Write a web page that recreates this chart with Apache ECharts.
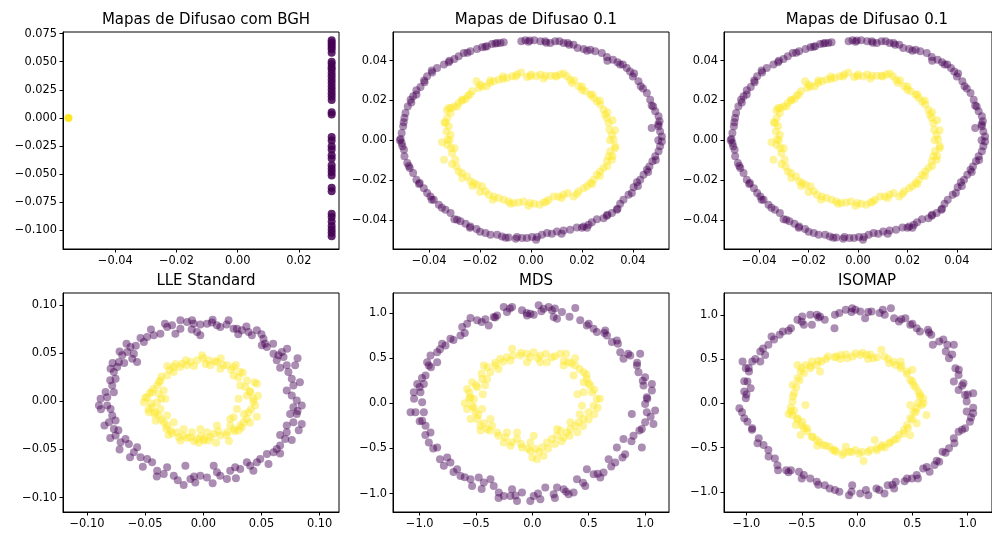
<!DOCTYPE html>
<html>
<head>
<meta charset="utf-8">
<script src="https://cdn.jsdelivr.net/npm/echarts@6/dist/echarts.min.js"></script>
<style>
  html, body { margin: 0; padding: 0; background: #fff; }
  #chart { width: 992px; height: 533px; }
</style>
</head>
<body>
<div id="chart"></div>
<script>
// ---- Titles ----
const panelTitles = ['Mapas de Difusao com BGH', 'Mapas de Difusao 0.1', 'Mapas de Difusao 0.1', 'LLE Standard', 'MDS', 'ISOMAP'];

// ---- Diffusion map with BGH: everything collapses onto two columns ----
const bghOuter = [
  [0.0307,0.069],[0.0307,0.067],[0.0307,0.065],[0.0307,0.063],[0.0307,0.061],[0.0307,0.058],
  [0.0307,0.050],[0.0307,0.048],[0.0307,0.045],[0.0307,0.043],[0.0307,0.040],[0.0307,0.037],
  [0.0307,0.034],[0.0307,0.031],[0.0307,0.028],[0.0307,0.025],[0.0307,0.022],[0.0307,0.019],
  [0.0307,0.016],[0.0307,0.005],[0.0307,0.003],[0.0307,-0.017],[0.0307,-0.020],[0.0307,-0.025],
  [0.0307,-0.028],[0.0307,-0.033],[0.0307,-0.036],[0.0307,-0.042],[0.0307,-0.045],[0.0307,-0.048],
  [0.0307,-0.051],[0.0307,-0.062],[0.0307,-0.065],[0.0307,-0.085],[0.0307,-0.088],[0.0307,-0.092],
  [0.0307,-0.096],[0.0307,-0.099],[0.0307,-0.102],[0.0307,-0.105]
];
const bghInner = [[-0.0553, 0.0]];

// ---- Diffusion map, epsilon 0.1 ----
const difOuter = [
  [-0.0153,0.0484],[-0.0133,0.0489],[-0.0107,0.0492],[-0.0173,0.0472],[-0.0192,0.0467],[-0.0212,0.0459],
  [-0.0238,0.0447],[-0.0264,0.0439],[-0.0284,0.0422],[-0.0301,0.0408],[-0.0323,0.0392],[-0.0342,0.0380],
  [-0.0369,0.0363],[-0.0388,0.0341],[-0.0408,0.0321],[-0.0418,0.0291],[-0.0434,0.0267],[-0.0450,0.0251],
  [-0.0463,0.0221],[-0.0473,0.0204],[-0.0484,0.0170],[-0.0493,0.0137],[-0.0497,0.0112],[-0.0502,0.0070],
  [-0.0508,0.0036],[-0.0512,0.0006],[-0.0508,-0.0014],[-0.0499,-0.0048],[-0.0497,-0.0081],[-0.0486,-0.0115],
  [-0.0476,-0.0140],[-0.0463,-0.0165],[-0.0450,-0.0199],[-0.0437,-0.0215],[-0.0421,-0.0241],[-0.0408,-0.0266],
  [-0.0395,-0.0283],[-0.0382,-0.0299],[-0.0362,-0.0324],[-0.0336,-0.0350],[-0.0316,-0.0366],[-0.0301,-0.0397],
  [-0.0277,-0.0408],[-0.0257,-0.0420],[-0.0238,-0.0434],[-0.0214,-0.0447],[-0.0179,-0.0467],[-0.0159,-0.0475],
  [-0.0133,-0.0475],[-0.0114,-0.0484],[-0.0088,-0.0489],[-0.0055,-0.0487],[-0.0035,-0.0492],[-0.0016,-0.0492],
  [0.0004,-0.0487],[0.0024,-0.0487],[0.0043,-0.0475],[0.0063,-0.0467],[0.0082,-0.0470],[0.0102,-0.0459],
  [0.0128,-0.0454],[0.0154,-0.0450],[0.0180,-0.0439],[0.0207,-0.0434],[0.0226,-0.0425],[0.0239,-0.0413],
  [0.0259,-0.0397],[0.0285,-0.0392],[0.0298,-0.0380],[0.0318,-0.0366],[0.0337,-0.0350],[0.0350,-0.0319],
  [0.0363,-0.0299],[0.0383,-0.0274],[0.0396,-0.0266],[0.0403,-0.0237],[0.0416,-0.0212],[0.0429,-0.0199],
  [0.0442,-0.0174],[0.0455,-0.0148],[0.0465,-0.0132],[0.0477,-0.0106],[0.0488,-0.0081],[0.0501,-0.0056],
  [0.0507,-0.0031],[0.0514,-0.0006],[0.0514,0.0019],[0.0507,0.0044],[0.0501,0.0070],[0.0474,0.0061],
  [0.0505,0.0095],[0.0501,0.0120],[0.0488,0.0145],[0.0474,0.0174],[0.0468,0.0204],[0.0455,0.0237],
  [0.0431,0.0271],[0.0422,0.0296],[0.0405,0.0335],[0.0389,0.0346],[0.0376,0.0363],[0.0361,0.0380],
  [0.0340,0.0392],[0.0322,0.0405],[0.0298,0.0418],[0.0278,0.0439],[0.0252,0.0447],[0.0233,0.0455],
  [0.0207,0.0459],[0.0183,0.0464],[0.0167,0.0480],[0.0144,0.0489],[0.0128,0.0489],[0.0112,0.0497],
  [0.0095,0.0497],[0.0076,0.0489],[0.0056,0.0497],[0.0037,0.0497],[0.0013,0.0502],[-0.0005,0.0501],
  [-0.0022,0.0502],[-0.0038,0.0497],[-0.0120,0.0489],[-0.0140,0.0486],
  [-0.0450,0.0230],[-0.0470,0.0190],[-0.0500,0.0090],[-0.0515,0.0000],[-0.0505,-0.0030],[-0.0480,-0.0130],
  [-0.0440,-0.0220],[-0.0390,-0.0300],[-0.0350,-0.0340],[-0.0290,-0.0400],[-0.0240,-0.0440],[-0.0200,-0.0460],
  [-0.0100,-0.0490],[-0.0060,-0.0495],[0.0020,-0.0500],[0.0120,-0.0470],[0.0200,-0.0440],[0.0220,-0.0440],
  [0.0300,-0.0375],[0.0340,-0.0345],[0.0420,-0.0230],[0.0460,-0.0160],[0.0490,-0.0100],[0.0500,0.0000],
  [0.0500,0.0080],[0.0480,0.0170],[0.0440,0.0260],[0.0400,0.0320],[0.0350,0.0380],[0.0300,0.0400],
  [0.0220,0.0450],[0.0150,0.0480],[0.0060,0.0490],[-0.0010,0.0495],[-0.0180,0.0470],[-0.0250,0.0440],
  [-0.0320,0.0400],[-0.0390,0.0350],[-0.0420,0.0300]
];
const difInner = [
  [-0.0323,0.0162],[-0.0316,0.0137],[-0.0329,0.0112],[-0.0336,0.0086],[-0.0323,0.0070],[-0.0332,0.0044],
  [-0.0316,0.0028],[-0.0327,0.0003],[-0.0329,-0.0023],[-0.0314,-0.0039],[-0.0342,-0.0098],[-0.0310,-0.0065],
  [-0.0297,-0.0098],[-0.0293,-0.0132],[-0.0284,-0.0157],[-0.0271,-0.0165],[-0.0251,-0.0182],[-0.0238,-0.0207],
  [-0.0225,-0.0215],[-0.0212,-0.0224],[-0.0192,-0.0232],[-0.0179,-0.0257],[-0.0166,-0.0274],[-0.0146,-0.0283],
  [-0.0127,-0.0291],[-0.0107,-0.0299],[-0.0088,-0.0308],[-0.0068,-0.0316],[-0.0048,-0.0313],[-0.0029,-0.0308],
  [-0.0003,-0.0316],[0.0013,-0.0319],[0.0034,-0.0324],[0.0050,-0.0313],[0.0069,-0.0299],[0.0089,-0.0283],
  [0.0108,-0.0283],[0.0128,-0.0274],[0.0144,-0.0266],[0.0167,-0.0283],[0.0187,-0.0257],[0.0207,-0.0241],
  [0.0220,-0.0232],[0.0233,-0.0215],[0.0246,-0.0199],[0.0259,-0.0174],[0.0272,-0.0157],[0.0285,-0.0140],
  [0.0298,-0.0106],[0.0305,-0.0081],[0.0311,-0.0056],[0.0318,-0.0098],[0.0331,-0.0031],[0.0324,0.0003],
  [0.0318,0.0028],[0.0308,0.0053],[0.0305,0.0086],[0.0298,0.0112],[0.0291,0.0128],[0.0285,0.0153],
  [0.0272,0.0179],[0.0259,0.0195],[0.0246,0.0212],[0.0233,0.0229],[0.0213,0.0246],[0.0200,0.0254],
  [0.0187,0.0271],[0.0161,0.0288],[0.0154,0.0304],[0.0141,0.0321],[0.0128,0.0335],[0.0115,0.0330],
  [0.0095,0.0324],[0.0076,0.0324],[0.0056,0.0324],[0.0037,0.0330],[0.0021,0.0321],[-0.0003,0.0321],
  [-0.0016,0.0318],[-0.0039,0.0341],[-0.0055,0.0330],[-0.0074,0.0321],[-0.0094,0.0313],[-0.0110,0.0308],
  [-0.0127,0.0304],[-0.0146,0.0296],[-0.0162,0.0288],[-0.0175,0.0271],[-0.0192,0.0271],[-0.0205,0.0262],
  [-0.0214,0.0296],[-0.0231,0.0246],[-0.0248,0.0224],[-0.0257,0.0207],[-0.0271,0.0204],[-0.0284,0.0187],
  [-0.0301,0.0170],[-0.0314,0.0162],
  [-0.0330,0.0150],[-0.0340,0.0090],[-0.0320,0.0000],[-0.0300,-0.0040],[-0.0310,-0.0120],[-0.0270,-0.0190],
  [-0.0230,-0.0230],[-0.0200,-0.0260],[-0.0150,-0.0300],[-0.0080,-0.0320],[-0.0010,-0.0330],[0.0060,-0.0310],
  [0.0120,-0.0290],[0.0180,-0.0270],[0.0240,-0.0220],[0.0270,-0.0180],[0.0300,-0.0130],[0.0320,-0.0080],
  [0.0330,-0.0040],[0.0310,0.0000],[0.0330,0.0050],[0.0320,0.0100],[0.0300,0.0140],[0.0270,0.0200],
  [0.0240,0.0230],[0.0200,0.0270],[0.0170,0.0300],[0.0100,0.0320],[0.0050,0.0310],[0.0000,0.0330],
  [-0.0060,0.0320],[-0.0110,0.0320],[-0.0160,0.0300],[-0.0200,0.0280],[-0.0240,0.0230],[-0.0270,0.0200],
  [-0.0290,0.0170],[-0.0350,-0.0010]
];

// ---- Standard LLE ----
const lleOuter = [
  [-0.0197,0.0845],[-0.0140,0.0828],[-0.0097,0.0845],[-0.0083,0.0810],[-0.0026,0.0800],[0.0031,0.0810],
  [0.0074,0.0821],[0.0117,0.0793],[0.0146,0.0776],[0.0217,0.0845],[0.0260,0.0758],[0.0289,0.0758],
  [0.0331,0.0741],[0.0389,0.0723],[0.0460,0.0741],[0.0417,0.0689],[0.0517,0.0654],[0.0531,0.0602],
  [0.0546,0.0567],[0.0503,0.0584],[0.0603,0.0497],[0.0646,0.0480],[0.0674,0.0515],[0.0689,0.0463],
  [0.0631,0.0428],[0.0717,0.0376],[0.0789,0.0376],[0.0731,0.0306],[0.0760,0.0237],[0.0774,0.0167],
  [0.0717,0.0115],[0.0760,0.0063],[0.0803,0.0010],[0.0846,-0.0042],[0.0774,-0.0059],[0.0746,-0.0129],
  [0.0803,-0.0129],[0.0846,-0.0233],[0.0774,-0.0216],[0.0717,-0.0250],[0.0717,-0.0320],[0.0703,-0.0390],
  [0.0660,-0.0459],[0.0631,-0.0494],[0.0603,-0.0529],[0.0546,-0.0546],[0.0489,-0.0598],[0.0460,-0.0633],
  [0.0403,-0.0668],[0.0374,-0.0633],[0.0317,-0.0703],[0.0274,-0.0685],[0.0231,-0.0720],[0.0203,-0.0807],
  [0.0146,-0.0772],[0.0117,-0.0737],[0.0089,-0.0668],[0.0031,-0.0790],[-0.0026,-0.0772],[-0.0069,-0.0842],
  [-0.0111,-0.0807],[-0.0154,-0.0668],[-0.0169,-0.0870],[-0.0254,-0.0772],[-0.0311,-0.0685],[-0.0340,-0.0755],
  [-0.0397,-0.0720],[-0.0440,-0.0633],[-0.0483,-0.0598],[-0.0540,-0.0581],[-0.0597,-0.0529],[-0.0569,-0.0477],
  [-0.0640,-0.0442],[-0.0669,-0.0390],[-0.0711,-0.0424],[-0.0754,-0.0355],[-0.0769,-0.0285],[-0.0811,-0.0216],
  [-0.0783,-0.0146],[-0.0754,-0.0198],[-0.0797,-0.0077],[-0.0826,-0.0042],[-0.0897,-0.0042],[-0.0883,0.0028],
  [-0.0826,0.0045],[-0.0769,0.0097],[-0.0783,0.0167],[-0.0754,0.0237],[-0.0769,0.0306],[-0.0740,0.0358],
  [-0.0797,0.0341],[-0.0726,0.0410],[-0.0697,0.0480],[-0.0654,0.0515],[-0.0626,0.0567],[-0.0597,0.0497],
  [-0.0611,0.0445],[-0.0569,0.0410],[-0.0511,0.0619],[-0.0483,0.0671],[-0.0426,0.0689],[-0.0369,0.0706],
  [-0.0311,0.0776],[-0.0269,0.0793],[-0.0240,0.0706],[-0.0197,0.0758],[-0.0026,0.0689],[-0.0054,0.0723],
  [-0.0880,-0.0080],[-0.0840,0.0100],[-0.0800,0.0220],[-0.0780,0.0400],[-0.0720,0.0520],[-0.0660,0.0600],
  [-0.0540,0.0660],[-0.0450,0.0750],[-0.0330,0.0810],[-0.0100,0.0750],[0.0080,0.0850],[0.0200,0.0800],
  [0.0370,0.0780],[0.0500,0.0700],[0.0600,0.0600],[0.0720,0.0550],[0.0810,0.0450],[0.0830,0.0200],
  [0.0810,-0.0100],[0.0820,-0.0300],[0.0760,-0.0400],[0.0660,-0.0540],[0.0560,-0.0650],[0.0430,-0.0720],
  [0.0280,-0.0800],[0.0080,-0.0850],[-0.0080,-0.0780],[-0.0220,-0.0820],[-0.0400,-0.0780],[-0.0520,-0.0680],
  [-0.0630,-0.0580],[-0.0720,-0.0500],[-0.0800,-0.0380],[-0.0850,-0.0250],[-0.0730,-0.0300],[-0.0680,0.0400],
  [-0.0580,0.0580],[0.0300,0.0700],[0.0660,0.0350],[0.0660,-0.0350]
];
const lleInner = [
  [-0.0483,0.0045],[-0.0440,0.0097],[-0.0397,0.0167],[-0.0369,0.0219],[-0.0311,0.0271],[-0.0254,0.0358],
  [-0.0183,0.0393],[-0.0111,0.0410],[-0.0054,0.0428],[-0.0011,0.0480],[0.0046,0.0428],[0.0117,0.0410],
  [0.0203,0.0376],[0.0260,0.0358],[0.0317,0.0306],[0.0374,0.0219],[0.0460,0.0184],[0.0403,0.0097],
  [0.0431,0.0028],[0.0446,-0.0042],[0.0389,-0.0111],[0.0374,-0.0181],[0.0346,-0.0216],[0.0317,-0.0250],
  [0.0260,-0.0285],[0.0203,-0.0320],[0.0146,-0.0355],[0.0089,-0.0337],[0.0046,-0.0407],[0.0003,-0.0390],
  [-0.0054,-0.0390],[-0.0111,-0.0372],[-0.0169,-0.0355],[-0.0226,-0.0320],[-0.0283,-0.0303],[-0.0311,-0.0250],
  [-0.0340,-0.0216],[-0.0383,-0.0146],[-0.0411,-0.0111],[-0.0440,-0.0059],[-0.0397,-0.0007],[-0.0383,0.0080],
  [-0.0340,0.0115],[-0.0254,0.0306],[-0.0140,0.0376],[0.0060,0.0376],[0.0146,0.0341],[0.0260,0.0271],
  [0.0317,0.0167],[0.0374,0.0063],[0.0303,0.0028],[0.0289,-0.0077],[0.0231,-0.0181],[0.0117,-0.0250],
  [-0.0026,-0.0285],[-0.0169,-0.0285],[-0.0254,-0.0216],[-0.0311,-0.0146],[-0.0369,-0.0077],[-0.0326,0.0028],
  [0.0003,-0.0407],[0.0031,-0.0320],[-0.0097,-0.0320],[-0.0197,-0.0407],[0.0231,-0.0250],[-0.0511,-0.0007],
  [-0.0469,-0.0111],[0.0260,-0.0163],[0.0303,-0.0303],
  [-0.0450,-0.0020],[-0.0430,0.0130],[-0.0360,0.0260],[-0.0290,0.0330],[-0.0200,0.0360],[-0.0080,0.0370],
  [0.0020,0.0390],[0.0100,0.0420],[0.0170,0.0380],[0.0240,0.0330],[0.0300,0.0250],[0.0360,0.0150],
  [0.0400,0.0110],[0.0430,0.0000],[0.0410,-0.0080],[0.0350,-0.0130],[0.0330,-0.0270],[0.0270,-0.0310],
  [0.0200,-0.0350],[0.0130,-0.0310],[0.0060,-0.0370],[-0.0020,-0.0360],[-0.0080,-0.0410],[-0.0140,-0.0380],
  [-0.0210,-0.0370],[-0.0270,-0.0330],[-0.0320,-0.0280],[-0.0360,-0.0190],[-0.0420,-0.0130],[-0.0470,-0.0080],
  [-0.0500,0.0040],[-0.0460,0.0090],[-0.0380,0.0200],[-0.0310,0.0370],[-0.0240,0.0390],[-0.0150,0.0430],
  [0.0000,0.0450],[0.0150,0.0450],[0.0280,0.0380],[0.0340,0.0300],[0.0440,0.0200],[0.0470,0.0060],
  [0.0460,-0.0160],[0.0400,-0.0220],[0.0220,-0.0410],[0.0110,-0.0430],[-0.0040,-0.0430],[-0.0300,-0.0350],
  [-0.0410,-0.0200],[-0.0360,0.0030]
];

// ---- MDS ----
const mdsOuter = [
  [-0.549,0.944],[-0.490,0.919],[-0.417,0.930],[-0.387,0.863],[-0.343,0.956],[-0.313,0.974],
  [-0.254,1.067],[-0.225,1.011],[-0.180,1.067],[-0.092,1.030],[-0.047,0.974],[-0.018,0.993],
  [0.012,0.981],[0.056,1.085],[0.100,1.048],[0.145,1.067],[0.174,1.030],[0.189,0.956],
  [0.219,0.937],[0.263,1.011],[0.381,1.056],[0.425,0.919],[0.484,0.863],[0.544,0.826],
  [0.573,0.789],[0.647,0.807],[0.662,0.752],[0.706,0.678],[0.750,0.696],[0.780,0.567],
  [0.809,0.493],[0.869,0.530],[0.957,0.548],[0.928,0.419],[0.942,0.344],[1.001,0.289],
  [0.987,0.196],[1.061,0.215],[1.061,0.141],[1.016,0.067],[1.001,-0.007],[1.016,-0.100],
  [1.090,-0.081],[1.001,-0.211],[1.075,-0.230],[0.972,-0.285],[0.883,-0.119],[0.898,-0.359],
  [0.972,-0.489],[0.809,-0.396],[0.824,-0.563],[0.750,-0.489],[0.736,-0.656],[0.677,-0.619],
  [0.632,-0.767],[0.603,-0.822],[0.544,-0.785],[0.484,-0.730],[0.470,-0.915],[0.396,-0.841],
  [0.366,-0.989],[0.322,-1.007],[0.278,-0.952],[0.219,-0.933],[0.189,-1.007],[0.115,-0.933],
  [0.071,-1.063],[0.012,-1.026],[-0.018,-1.081],[-0.092,-0.989],[-0.136,-1.081],[-0.180,-0.952],
  [-0.195,-1.026],[-0.254,-1.026],[-0.298,-0.989],[-0.343,-0.915],[-0.372,-0.841],[-0.431,-0.878],
  [-0.476,-0.822],[-0.549,-0.841],[-0.535,-0.915],[-0.638,-0.804],[-0.668,-0.730],[-0.727,-0.656],
  [-0.756,-0.600],[-0.786,-0.693],[-0.845,-0.489],[-0.919,-0.433],[-0.904,-0.322],[-0.948,-0.248],
  [-0.978,-0.193],[-0.963,-0.100],[-1.037,-0.100],[-1.081,-0.100],[-0.978,0.011],[-1.052,0.122],
  [-0.993,0.122],[-0.963,0.215],[-1.022,0.215],[-0.948,0.307],[-0.919,0.419],[-0.934,0.456],
  [-0.904,0.530],[-0.845,0.567],[-0.845,0.456],[-0.801,0.659],[-0.771,0.641],[-0.727,0.715],
  [-0.638,0.752],[-0.623,0.844],[-0.579,0.881],
  [-1.05,0.05],[-1.00,-0.20],[-0.95,-0.35],[-0.88,-0.50],[-0.82,-0.62],[-0.70,-0.76],
  [-0.60,-0.82],[-0.45,-0.95],[-0.30,-1.05],[-0.15,-1.02],[0.05,-1.00],[0.20,-1.05],
  [0.30,-0.98],[0.45,-0.88],[0.58,-0.78],[0.70,-0.70],[0.80,-0.60],[0.88,-0.42],
  [0.95,-0.30],[1.05,-0.15],[1.02,0.05],[0.98,0.25],[0.93,0.45],[0.85,0.55],
  [0.76,0.66],[0.64,0.78],[0.50,0.88],[0.33,0.96],[0.20,1.05],[0.08,1.02],
  [-0.05,1.00],[-0.20,1.05],[-0.33,0.95],[-0.45,0.90],[-0.60,0.78],[-0.70,0.70],
  [-0.82,0.60],[-0.90,0.40],[-0.98,0.28],[-1.00,0.18]
];
const mdsInner = [
  [-0.579,0.159],[-0.549,0.067],[-0.535,-0.026],[-0.579,-0.063],[-0.505,-0.100],[-0.490,-0.174],
  [-0.461,-0.248],[-0.402,-0.285],[-0.357,-0.248],[-0.313,-0.322],[-0.254,-0.433],[-0.195,-0.470],
  [-0.136,-0.396],[-0.092,-0.489],[-0.018,-0.433],[0.027,-0.507],[0.086,-0.489],[0.100,-0.581],
  [0.041,-0.619],[0.130,-0.433],[0.174,-0.396],[0.219,-0.359],[0.278,-0.378],[0.307,-0.322],
  [0.337,-0.285],[0.381,-0.248],[0.411,-0.211],[0.455,-0.174],[0.499,-0.100],[0.544,-0.026],
  [0.573,0.048],[0.529,0.122],[0.514,0.196],[0.484,0.270],[0.455,0.344],[0.381,0.419],
  [0.322,0.456],[0.278,0.419],[0.248,0.548],[0.174,0.511],[0.130,0.456],[0.071,0.530],
  [0.012,0.567],[-0.047,0.548],[-0.106,0.530],[-0.180,0.604],[-0.225,0.511],[-0.284,0.493],
  [-0.328,0.419],[-0.372,0.344],[-0.402,0.270],[-0.446,0.270],[-0.490,0.178],[-0.535,0.233],
  [-0.431,0.419],[-0.047,0.456],[0.071,0.456],[0.366,0.307],[0.455,0.122],[0.440,-0.026],
  [0.337,-0.211],[0.219,-0.285],[-0.136,-0.322],[-0.225,-0.322],[-0.372,-0.174],[-0.446,-0.063],
  [-0.520,0.048],[-0.018,-0.526],[0.012,-0.359],[0.455,0.233],[-0.549,-0.174],[-0.195,0.474],
  [-0.60,0.00],[-0.56,0.12],[-0.50,0.20],[-0.45,0.33],[-0.40,0.40],[-0.33,0.45],
  [-0.26,0.46],[-0.17,0.53],[-0.10,0.56],[-0.02,0.51],[0.05,0.50],[0.12,0.55],
  [0.20,0.52],[0.28,0.47],[0.35,0.44],[0.42,0.38],[0.48,0.32],[0.50,0.22],
  [0.55,0.15],[0.60,0.05],[0.58,-0.05],[0.55,-0.12],[0.50,-0.18],[0.45,-0.25],
  [0.40,-0.32],[0.33,-0.36],[0.26,-0.42],[0.20,-0.45],[0.14,-0.50],[0.06,-0.54],
  [-0.04,-0.50],[-0.10,-0.45],[-0.18,-0.43],[-0.24,-0.38],[-0.30,-0.36],[-0.38,-0.30],
  [-0.43,-0.22],[-0.48,-0.13],[-0.52,-0.05],[-0.56,0.05],[-0.44,0.10],[-0.42,0.20],
  [0.40,0.10],[0.42,-0.12],[0.25,-0.30],[-0.30,0.38],[0.38,0.50],[-0.46,-0.30],
  [0.00,-0.60],[0.30,0.55]
];

// ---- Isomap ----
const isoOuter = [
  [-0.496,0.981],[-0.423,1.000],[-0.364,1.000],[-0.335,0.981],[-0.292,0.943],[-0.204,0.849],
  [-0.160,1.019],[-0.102,1.057],[-0.044,1.075],[-0.015,1.057],[0.029,1.038],[0.073,0.962],
  [0.131,1.038],[0.204,1.019],[0.233,1.057],[0.306,1.075],[0.335,0.962],[0.379,0.925],
  [0.437,0.962],[0.481,0.887],[0.539,0.849],[0.569,0.811],[0.641,0.830],[0.671,0.774],
  [0.685,0.660],[0.743,0.698],[0.816,0.660],[0.875,0.660],[0.831,0.509],[0.802,0.585],
  [0.889,0.396],[0.918,0.321],[0.875,0.245],[0.962,0.226],[0.977,0.094],[0.918,0.151],
  [1.050,0.113],[0.991,0.019],[0.991,-0.094],[1.050,-0.113],[1.020,-0.208],[0.977,-0.283],
  [0.918,-0.321],[0.875,-0.396],[0.831,-0.509],[0.773,-0.547],[0.743,-0.660],[0.700,-0.698],
  [0.656,-0.774],[0.598,-0.736],[0.539,-0.811],[0.496,-0.849],[0.452,-0.849],[0.350,-0.887],
  [0.335,-0.962],[0.277,-0.925],[0.248,-1.019],[0.175,-0.962],[0.102,-1.038],[0.029,-1.019],
  [-0.044,-0.925],[-0.073,-1.038],[-0.160,-1.000],[-0.248,-0.962],[-0.292,-0.925],[-0.364,-0.887],
  [-0.423,-0.849],[-0.481,-0.811],[-0.525,-0.774],[-0.598,-0.755],[-0.641,-0.755],[-0.714,-0.755],
  [-0.743,-0.623],[-0.802,-0.528],[-0.845,-0.472],[-0.889,-0.396],[-0.948,-0.283],[-0.991,-0.208],
  [-1.020,-0.170],[-1.064,-0.057],[-1.006,0.057],[-1.020,0.132],[-0.962,0.170],[-0.991,0.245],
  [-0.977,0.358],[-1.006,0.396],[-1.035,0.472],[-0.948,0.472],[-0.875,0.472],[-0.831,0.547],
  [-0.875,0.585],[-0.802,0.660],[-0.773,0.755],[-0.700,0.774],[-0.671,0.811],[-0.598,0.849],
  [-0.539,0.943],[-0.481,0.887],[-0.408,0.887],
  [-1.02,0.25],[-1.00,0.10],[-1.04,-0.10],[-0.95,-0.30],[-0.90,-0.45],[-0.80,-0.60],
  [-0.72,-0.70],[-0.62,-0.78],[-0.50,-0.85],[-0.35,-0.92],[-0.20,-0.98],[-0.05,-1.00],
  [0.08,-0.98],[0.20,-0.98],[0.32,-0.92],[0.43,-0.88],[0.55,-0.85],[0.63,-0.72],
  [0.72,-0.65],[0.80,-0.56],[0.88,-0.45],[0.95,-0.30],[1.03,-0.16],[1.05,-0.05],
  [1.00,0.10],[0.95,0.20],[0.92,0.38],[0.86,0.55],[0.78,0.72],[0.65,0.80],
  [0.50,0.90],[0.40,0.95],[0.25,1.00],[0.10,1.03],[-0.05,1.03],[-0.20,1.00],
  [-0.35,0.97],[-0.50,0.92],[-0.62,0.82],[-0.75,0.72],[-0.85,0.62],[-0.92,0.50],
  [-0.98,0.40]
];
const isoInner = [
  [-0.598,-0.094],[-0.583,0.019],[-0.569,0.113],[-0.583,0.208],[-0.539,0.283],[-0.510,0.358],
  [-0.466,0.434],[-0.408,0.472],[-0.364,0.434],[-0.321,0.472],[-0.262,0.528],[-0.190,0.528],
  [-0.146,0.547],[-0.087,0.509],[-0.015,0.566],[0.029,0.547],[0.087,0.547],[0.146,0.509],
  [0.219,0.604],[0.248,0.528],[0.292,0.453],[0.350,0.434],[0.394,0.396],[0.452,0.358],
  [0.481,0.264],[0.510,0.208],[0.554,0.132],[0.598,0.057],[0.583,-0.019],[0.539,-0.057],
  [0.510,-0.094],[0.481,-0.170],[0.452,-0.245],[0.423,-0.302],[0.379,-0.358],[0.335,-0.415],
  [0.292,-0.453],[0.233,-0.472],[0.175,-0.509],[0.117,-0.528],[0.044,-0.547],[-0.015,-0.528],
  [-0.073,-0.547],[-0.131,-0.585],[-0.190,-0.547],[-0.248,-0.491],[-0.306,-0.472],[-0.364,-0.415],
  [-0.408,-0.377],[-0.452,-0.283],[-0.496,-0.208],[-0.539,-0.170],[-0.583,-0.132],[-0.510,-0.358],
  [-0.481,-0.283],[-0.466,-0.019],[0.539,-0.226],[0.627,-0.132],[0.058,-0.653],[-0.102,-0.491],
  [0.219,-0.491],[0.394,0.472],[-0.335,0.358],[-0.539,0.434],[-0.554,-0.245],[0.481,-0.019],
  [0.569,0.075],[0.160,-0.415],[-0.219,-0.528],[-0.423,0.396],
  [-0.60,-0.05],[-0.58,0.08],[-0.55,0.18],[-0.52,0.26],[-0.48,0.34],[-0.42,0.42],
  [-0.35,0.48],[-0.28,0.50],[-0.20,0.52],[-0.10,0.55],[-0.04,0.53],[0.05,0.57],
  [0.12,0.55],[0.18,0.52],[0.28,0.50],[0.33,0.47],[0.40,0.42],[0.45,0.33],
  [0.50,0.25],[0.53,0.18],[0.57,0.10],[0.55,0.00],[0.53,-0.10],[0.50,-0.18],
  [0.46,-0.28],[0.42,-0.34],[0.36,-0.40],[0.30,-0.44],[0.25,-0.50],[0.18,-0.53],
  [0.10,-0.55],[0.02,-0.57],[-0.05,-0.55],[-0.12,-0.56],[-0.20,-0.53],[-0.28,-0.48],
  [-0.34,-0.44],[-0.40,-0.38],[-0.45,-0.32],[-0.50,-0.25],[-0.54,-0.18],[-0.57,-0.08],
  [-0.62,-0.12],[-0.50,0.40],[0.60,0.00],[0.48,-0.36],[-0.36,-0.48],[0.10,0.50],
  [-0.15,0.50],[0.50,0.38]
];

// ---- Axis extents and tick values for each panel ----
const panelRanges = [
  { x: [-0.0571, 0.0331], y: [-0.1164, 0.0764] },
  { x: [-0.0542, 0.0542], y: [-0.0547, 0.0544] },
  { x: [-0.0542, 0.0542], y: [-0.0547, 0.0544] },
  { x: [-0.1206, 0.1166], y: [-0.1150, 0.1129] },
  { x: [-1.237, 1.213], y: [-1.204, 1.222] },
  { x: [-1.203, 1.220], y: [-1.228, 1.246] }
];
const xTicks = [
  [-0.04, -0.02, 0.0, 0.02],
  [-0.04, -0.02, 0.0, 0.02, 0.04],
  [-0.04, -0.02, 0.0, 0.02, 0.04],
  [-0.10, -0.05, 0.0, 0.05, 0.10],
  [-1.0, -0.5, 0.0, 0.5, 1.0],
  [-1.0, -0.5, 0.0, 0.5, 1.0]
];
const yTicks = [
  [-0.100, -0.075, -0.050, -0.025, 0.0, 0.025, 0.050, 0.075],
  [-0.04, -0.02, 0.0, 0.02, 0.04],
  [-0.04, -0.02, 0.0, 0.02, 0.04],
  [-0.10, -0.05, 0.0, 0.05, 0.10],
  [-1.0, -0.5, 0.0, 0.5, 1.0],
  [-1.0, -0.5, 0.0, 0.5, 1.0]
];
const xDecimals = [2, 2, 2, 2, 1, 1];
const yDecimals = [3, 2, 2, 2, 1, 1];

const panelData = [
  [bghOuter, bghInner],
  [difOuter, difInner],
  [difOuter, difInner],
  [lleOuter, lleInner],
  [mdsOuter, mdsInner],
  [isoOuter, isoInner]
];

// ---- Layout ----
const colLeft = [63, 393, 724];
const rowTop = [32, 293];
const rowHeight = [217, 219];
const axW = 276;

const PURPLE = '#440154';
const YELLOW = '#fde725';
const FONT = 'DejaVu Sans';

function fmt(v, d) {
  let s = Math.abs(v) < 1e-12 ? (0).toFixed(d) : v.toFixed(d);
  return s.replace('-', '\u2212');
}

const grids = [], xAxes = [], yAxes = [], series = [], titles = [];
for (let i = 0; i < 6; i++) {
  const r = Math.floor(i / 3), c = i % 3;
  grids.push({
    left: colLeft[c], top: rowTop[r], width: axW, height: rowHeight[r],
    show: true, borderColor: '#000', borderWidth: 1, backgroundColor: 'transparent',
    containLabel: false
  });
  titles.push({
    text: panelTitles[i],
    left: colLeft[c] + axW / 2, top: rowTop[r] - 24, textAlign: 'center',
    textStyle: { fontFamily: FONT, fontSize: 15, fontWeight: 'normal', color: '#000' }
  });
  const xd = xDecimals[i], yd = yDecimals[i];
  xAxes.push({
    gridIndex: i, type: 'value',
    min: panelRanges[i].x[0], max: panelRanges[i].x[1],
    splitLine: { show: false },
    axisLine: { show: true, onZero: false, lineStyle: { color: '#000', width: 1 } },
    axisTick: { show: true, length: 3.5, lineStyle: { color: '#000' }, customValues: xTicks[i] },
    axisLabel: {
      show: true, customValues: xTicks[i], margin: 7,
      fontFamily: FONT, fontSize: 11.4, color: '#000',
      formatter: v => fmt(v, xd)
    }
  });
  yAxes.push({
    gridIndex: i, type: 'value',
    min: panelRanges[i].y[0], max: panelRanges[i].y[1],
    splitLine: { show: false },
    axisLine: { show: true, onZero: false, lineStyle: { color: '#000', width: 1 } },
    axisTick: { show: true, length: 3.5, lineStyle: { color: '#000' }, customValues: yTicks[i] },
    axisLabel: {
      show: true, customValues: yTicks[i], margin: 6,
      fontFamily: FONT, fontSize: 11.4, color: '#000',
      formatter: v => fmt(v, yd)
    }
  });
  const collapsed = i === 0;
  series.push({
    type: 'scatter', xAxisIndex: i, yAxisIndex: i,
    data: panelData[i][0], symbolSize: 8,
    itemStyle: { color: PURPLE, opacity: collapsed ? 0.85 : 0.45 },
    emphasis: { disabled: true }, silent: true, animation: false
  });
  series.push({
    type: 'scatter', xAxisIndex: i, yAxisIndex: i,
    data: panelData[i][1], symbolSize: 8,
    itemStyle: { color: YELLOW, opacity: collapsed ? 1 : 0.45 },
    emphasis: { disabled: true }, silent: true, animation: false
  });
}

const chart = echarts.init(document.getElementById('chart'), null, { renderer: 'canvas' });
chart.setOption({
  backgroundColor: '#fff',
  animation: false,
  title: titles,
  grid: grids,
  xAxis: xAxes,
  yAxis: yAxes,
  series: series
});
</script>
</body>
</html>
